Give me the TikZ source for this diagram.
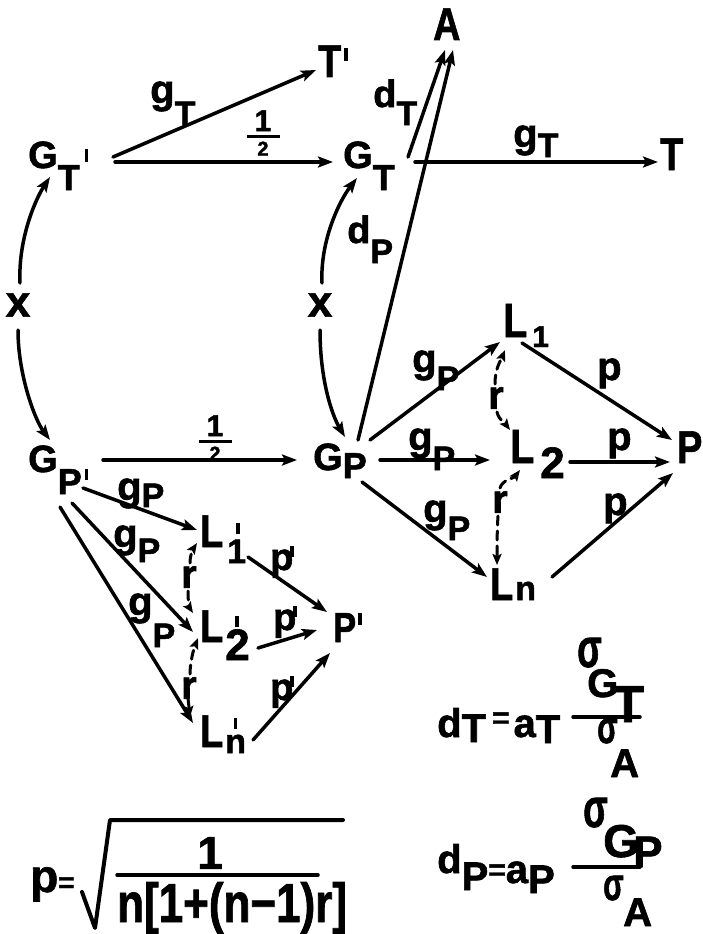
\documentclass[tikz,border=0pt]{standalone}
\usepackage{graphicx}
\usepackage{amsmath}
\usepackage{fontspec}
\setmainfont{Liberation Sans}[BoldFeatures={FakeBold=1.5}]
\usetikzlibrary{arrows.meta,calc}
\newcommand\lowr[2]{\raisebox{-#1}{#2}}
\newcommand\nar[1]{\scalebox{0.82}[1]{#1}}
\newcommand\fs[1]{\fontsize{#1}{#1}\selectfont}
\newcommand\sig{\scalebox{0.75}[1.15]{σ}}
% tick (prime) : raise, height
\newcommand\tk[2]{\raisebox{#1}{\rule{3.5pt}{#2}}}
% prime centred above a subscript: shift, raise, char
\newcommand\prsub[3]{\makebox[0pt][l]{\hspace{#1}\tk{#2}{11pt}}#3}
\newcommand\halfrac{$\genfrac{}{}{3.5pt}{}{\makebox[33pt]{\bfseries\fs{30}1}}{\makebox[33pt]{\bfseries\fs{20}2}}$}
\begin{document}
\begin{tikzpicture}[x=1pt,y=-1pt,line cap=round,
  arr/.style={-{Stealth[length=15pt,width=11pt,inset=3pt]},line width=3.5pt},
  darr/.style={-{Stealth[length=11pt,width=9pt,inset=2pt]},line width=3pt,dash pattern=on 9pt off 6pt},
  txt/.style={anchor=base west,inner sep=0pt},
  ctr/.style={inner sep=0pt},
  bar/.style={line width=3.5pt}]
\useasboundingbox (0,0) rectangle (702,934);

% main nodes
\node[txt,font=\bfseries\fs{38}] (gtp) at (28,168) {G\lowr{22pt}{\fs{36}T}\hspace{5pt}\tk{6pt}{13pt}};
\node[txt,font=\bfseries\fs{46}] (tp) at (318,77) {\nar{T}\hspace{3pt}\tk{16pt}{13pt}};
\node[txt,font=\bfseries\fs{38}] (gt) at (343,168) {G\lowr{22pt}{\fs{36}T}};
\node[txt,font=\bfseries\fs{46}] (A) at (433,40) {\nar{A}};
\node[txt,font=\bfseries\fs{46}] (T) at (660,170) {\nar{T}};
\node[txt,font=\bfseries\fs{38}] (gpp) at (28,472) {G\lowr{22pt}{\fs{36}P}\hspace{3pt}\tk{-8pt}{11pt}};
\node[txt,font=\bfseries\fs{38}] (gp) at (313,470) {G\lowr{8pt}{\fs{36}P}};

\node[txt,font=\bfseries\fs{48}] (L1) at (503,337) {\nar{L}\hspace{5pt}\lowr{10pt}{\fs{30}1}};
\node[txt,font=\bfseries\fs{48}] (L2) at (510,463) {\nar{L}\hspace{6pt}\lowr{15pt}{\fs{44}2}};
\node[txt,font=\bfseries\fs{46}] (Ln) at (490,600) {\nar{L}\hspace{2pt}{\fs{34}n}};
\node[txt,font=\bfseries\fs{46}] (P) at (677,463) {\nar{P}};

\node[txt,font=\bfseries\fs{46}] (L1p) at (200,547) {\nar{L}\hspace{4pt}\lowr{16pt}{\fs{34}\prsub{9pt}{29pt}{1}}};
\node[txt,font=\bfseries\fs{46}] (L2p) at (200,642) {\nar{L}\hspace{2pt}\lowr{18pt}{\fs{44}\prsub{10pt}{33pt}{2}}};
\node[txt,font=\bfseries\fs{46}] (Lnp) at (200,747) {\nar{L}\hspace{2pt}\lowr{6pt}{\fs{34}\prsub{8.5pt}{24pt}{n}}};
\node[txt,font=\bfseries\fs{42}] (Pp) at (333,642) {\nar{P}\hspace{2pt}\tk{17pt}{12pt}};

% labels
\node[txt,font=\bfseries\fs{40}] (lgT1) at (150,103) {g\lowr{22pt}{\fs{34}T}};
\node[ctr] (h1) at (263,133) {\halfrac};
\node[txt,font=\bfseries\fs{38}] (ldT) at (373,107) {d\lowr{18pt}{\fs{34}T}};
\node[txt,font=\bfseries\fs{38}] (ldP) at (347,243) {d\lowr{20pt}{\fs{34}P}};
\node[txt,font=\bfseries\fs{40}] (lgT2) at (513,147) {g\lowr{10pt}{\fs{34}T}};
\node[ctr,font=\bfseries\fs{44}] (xl) at (18,305) {x};
\node[ctr,font=\bfseries\fs{44}] (xr) at (320,305) {x};
\node[ctr] (h2) at (215,438) {\halfrac};
\node[txt,font=\bfseries\fs{40}] (lgP1) at (412,372) {g\lowr{18pt}{\fs{34}P}};
\node[txt,font=\bfseries\fs{40}] (lgP2) at (408,450) {g\lowr{20pt}{\fs{34}P}};
\node[txt,font=\bfseries\fs{40}] (lgP3) at (423,522) {g\lowr{18pt}{\fs{34}P}};
\node[txt,font=\bfseries\fs{40}] (lgP4) at (117,500) {g\lowr{7pt}{\fs{34}P}};
\node[txt,font=\bfseries\fs{40}] (lgP5) at (113,547) {g\lowr{15pt}{\fs{34}P}};
\node[txt,font=\bfseries\fs{40}] (lgP6) at (128,615) {g\lowr{32pt}{\fs{34}P}};
\node[txt,font=\bfseries\fs{40}] (lp1) at (597,380) {p};
\node[txt,font=\bfseries\fs{40}] (lp2) at (607,450) {p};
\node[txt,font=\bfseries\fs{40}] (lp3) at (603,515) {p};
\node[txt,font=\bfseries\fs{38}] (lq1) at (270,570) {p\hspace{-3pt}\tk{13pt}{11pt}};
\node[txt,font=\bfseries\fs{38}] (lq2) at (273,630) {p\hspace{-3pt}\tk{13pt}{11pt}};
\node[txt,font=\bfseries\fs{38}] (lq3) at (270,700) {p\hspace{-3pt}\tk{13pt}{11pt}};
\node[ctr,font=\bfseries\fs{40}] (r1) at (496,398) {r};
\node[ctr,font=\bfseries\fs{40}] (r2) at (500,502) {r};
\node[ctr,font=\bfseries\fs{40}] (r3) at (189,577) {r};
\node[ctr,font=\bfseries\fs{40}] (r4) at (189,688) {r};

% top arrows
\draw[arr] ($(gtp.base west)+(85,-11)$) -- ($(tp.base west)+(-2,-7)$);
\draw[arr] ($(gtp.base west)+(87,-6)$) -- ($(gt.base west)+(-10,-6)$);
\draw[arr] ($(gt.base west)+(65,-11)$) -- ($(A.base west)+(12,10)$);
\draw[arr] ($(gt.base west)+(72,-6)$) -- ($(T.base west)+(-2,-8)$);
\draw[arr] ($(gp.base west)+(45,-30)$) -- ($(A.base west)+(20,10)$);
\draw[arr] ($(gpp.base west)+(75,-12)$) -- ($(gp.base west)+(-16,-10)$);

% x curves
\draw[arr] ($(xl.center)+(2,-22)$) .. controls +(-2,-43) and +(-15,23) .. ($(gtp.base west)+(22,9)$);
\draw[arr] ($(xl.center)+(0,25)$) .. controls +(0,45) and +(-15,-20) .. ($(gpp.base west)+(22,-32)$);
\draw[arr] ($(xr.center)+(2,-22)$) .. controls +(-2,-43) and +(-17,22) .. ($(gt.base west)+(14,10)$);
\draw[arr] ($(xr.center)+(0,25)$) .. controls +(0,50) and +(-13,-22) .. ($(gp.base west)+(32,-33)$);

% right network
\draw[arr] ($(gp.base west)+(57,-30)$) -- ($(L1.base west)+(-3,5)$);
\draw[arr] ($(gp.base west)+(67,-10)$) -- ($(L2.base west)+(-20,-3)$);
\draw[arr] ($(gp.base west)+(49,12)$) -- ($(Ln.base west)+(-3,-23)$);
\draw[arr] ($(L1.base west)+(19,6)$) -- ($(P.base west)+(-5,-23)$);
\draw[arr] ($(L2.base west)+(60,-1)$) -- ($(P.base west)+(-7,-1)$);
\draw[arr] ($(Ln.base west)+(62,-23)$) -- ($(P.base west)+(-4,10)$);
\draw[darr] ($(r1.center)+(-1,-14)$) .. controls +(0,-15) and +(-5,12) .. ($(L1.base west)+(2,13)$);
\draw[darr] ($(r1.center)+(1,14)$) .. controls +(2,8) and +(-6,-8) .. ($(L2.base west)+(0,-33)$);
\draw[darr] ($(r2.center)+(0,-14)$) .. controls +(2,-8) and +(-6,8) .. ($(L2.base west)+(10,7)$);
\draw[darr] ($(r2.center)+(-2,14)$) .. controls +(-1,15) and +(0,-15) .. ($(Ln.base west)+(7,-35)$);

% left network
\draw[arr] ($(gpp.base west)+(55,16)$) -- ($(L1p.base west)+(-3,-17)$);
\draw[arr] ($(gpp.base west)+(44,31)$) -- ($(L2p.base west)+(-7,-10)$);
\draw[arr] ($(gpp.base west)+(32,35)$) -- ($(Lnp.base west)+(-7,-24)$);
\draw[arr] ($(L1p.base west)+(48,10)$) -- ($(Pp.base west)+(-6,-30)$);
\draw[arr] ($(L2p.base west)+(58,6)$) -- ($(Pp.base west)+(-16,-12)$);
\draw[arr] ($(Lnp.base west)+(53,-7)$) -- ($(Pp.base west)+(-3,11)$);
\draw[darr] ($(r3.center)+(1,-14)$) .. controls +(0,-8) and +(-4,6) .. ($(L1p.base west)+(-3,-4)$);
\draw[darr] ($(r3.center)+(-1,14)$) .. controls +(0,8) and +(-4,-6) .. ($(L2p.base west)+(-7,-29)$);
\draw[darr] ($(r4.center)+(1,-14)$) .. controls +(0,-12) and +(-4,10) .. ($(L2p.base west)+(-2,-4)$);
\draw[darr] ($(r4.center)+(-1,10)$) -- ($(Lnp.base west)+(-10,-30)$);

% formula d_T
\node[txt,font=\bfseries\fs{40}] (fdT) at (437,737) {d\lowr{5pt}{T}\hspace{6pt}\raisebox{9pt}{\fs{30}=}\hspace{4pt}a\lowr{6pt}{T}};
\draw[bar] (573,717) -- (640,717);
\node[txt,font=\bfseries\fs{48}] (sgT1) at (577,667) {\sig};
\node[txt,font=\bfseries\fs{40}] (sgT2) at (587,697) {G};
\node[txt,font=\bfseries\fs{52}] (sgT3) at (612,722) {T};
\node[txt,font=\bfseries\fs{40}] (sgA1) at (597,743) {\sig};
\node[txt,font=\bfseries\fs{40}] (sgA2) at (610,777) {A};

% formula d_P
\node[txt,font=\bfseries\fs{40}] (fdP) at (437,873) {d\lowr{17pt}{P}\raisebox{-7pt}{\fs{30}=}\lowr{10pt}{a}\lowr{20pt}{P}};
\draw[bar] (573,867) -- (640,867);
\node[txt,font=\bfseries\fs{48}] (spP1) at (583,827) {\sig};
\node[txt,font=\bfseries\fs{46}] (spP2) at (603,857) {G};
\node[txt,font=\bfseries\fs{44}] (spP3) at (633,867) {P};
\node[txt,font=\bfseries\fs{40}] (spA1) at (603,900) {\sig};
\node[txt,font=\bfseries\fs{40}] (spA2) at (623,926) {A};

% formula p
\node[txt,font=\bfseries\fs{46}] (pe) at (30,892) {p{\fs{28}=}};
\node[ctr,font=\bfseries\fs{46}] (num) at (210,853) {1};
\draw[bar] (117,875) -- (318,875);
\node[txt,font=\bfseries\fs{44}] (den) at (117,922) {\scalebox{1}[1.25]{n[1+(n−1)r]}};
\draw[line width=4pt,line join=round] (82,892) -- (95,928) -- (110,820) -- (343,820);
\end{tikzpicture}
\end{document}
